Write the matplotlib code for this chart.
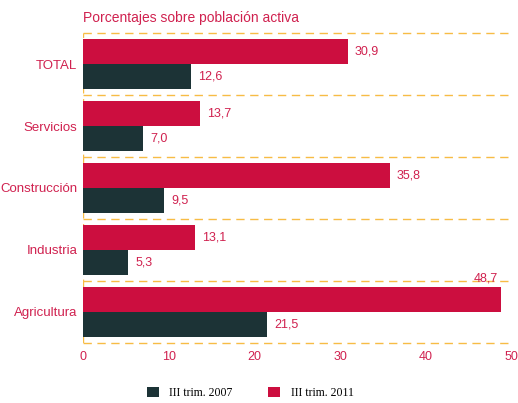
import matplotlib
matplotlib.use("Agg")
import matplotlib.pyplot as plt
import numpy as np

categories = ["TOTAL", "Servicios", "Construcción", "Industria", "Agricultura"]
v2007 = [12.6, 7.0, 9.5, 5.3, 21.5]
v2011 = [30.9, 13.7, 35.8, 13.1, 48.7]
series_names = ["III trim. 2007", "III trim. 2011"]
xticks = [0, 10, 20, 30, 40, 50]
title = "Porcentajes sobre población activa"

RED = "#CC0E3F"
DARK = "#1C3336"
TXT = "#D0214F"
GRID = "#F7BC45"

sans = ["Liberation Sans", "DejaVu Sans"]
serif = ["Liberation Serif", "DejaVu Serif"]

fig = plt.figure(figsize=(5.18, 4.03), dpi=100)
ax = fig.add_axes([0.160, 0.149, 0.828, 0.769])

y = np.arange(len(categories))
h = 0.4
ax.barh(y - h / 2, v2011, height=h, color=RED, label=series_names[1], zorder=2)
ax.barh(y + h / 2, v2007, height=h, color=DARK, label=series_names[0], zorder=2)

ax.set_ylim(len(categories) - 0.5, -0.5)
ax.set_xlim(0, 50)
ax.set_yticks(y)
ax.set_yticklabels(categories, family=sans, fontsize=9.5, color=TXT)
ax.set_xticks(xticks)
ax.set_xticklabels([str(t) for t in xticks], family=sans, fontsize=9, color=TXT)
ax.tick_params(length=0, pad=6)
ax.tick_params(axis="y", pad=4)

for s in ax.spines.values():
    s.set_visible(False)
ax.axvline(0, color=GRID, lw=1, ls=(0, (6, 4)), zorder=1)
for b in np.arange(-0.5, len(categories), 1.0):
    ax.axhline(b, color=GRID, lw=1, ls=(0, (6, 4)), zorder=1, clip_on=False)

def fmt(v):
    return f"{v:.1f}".replace(".", ",")

for i, (a, b) in enumerate(zip(v2007, v2011)):
    ax.annotate(fmt(a), (a, i + h / 2), xytext=(5, 0), textcoords="offset points",
                va="center", ha="left", family=sans, fontsize=9, color=TXT)
    if b > 45:
        ax.annotate(fmt(b), (b, i - h), xytext=(-2, 2), textcoords="offset points",
                    va="bottom", ha="right", family=sans, fontsize=9, color=TXT)
    else:
        ax.annotate(fmt(b), (b, i - h / 2), xytext=(5, 0), textcoords="offset points",
                    va="center", ha="left", family=sans, fontsize=9, color=TXT)

fig.text(0.160, 0.955, title, family=sans, fontsize=10, color=TXT, ha="left", va="center")

handles, labels = ax.get_legend_handles_labels()
leg = fig.legend(handles[::-1], labels[::-1], loc="center", bbox_to_anchor=(0.483, 0.025),
                 ncol=2, frameon=False, prop={"family": serif, "size": 8.5},
                 handlelength=1.0, handleheight=1.0, columnspacing=3.0, handletextpad=0.9)

fig.savefig("out.png", dpi=100)
